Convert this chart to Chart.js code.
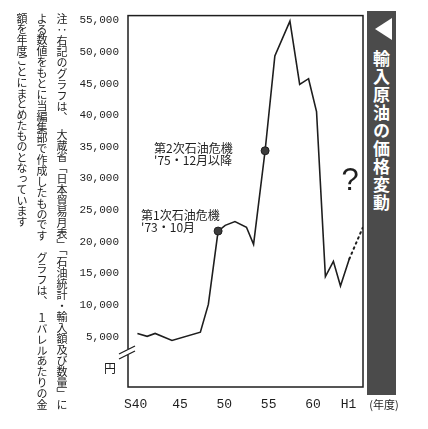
<!DOCTYPE html>
<html lang="ja">
<head>
<meta charset="utf-8">
<title>輸入原油の価格変動</title>
<script src="https://cdn.jsdelivr.net/npm/chart.js@4/dist/chart.umd.min.js"></script>
<style>
html, body { margin: 0; padding: 0; background: #fff; }
#wrap { position: relative; width: 428px; height: 429px; overflow: hidden; }
#wrap canvas { position: absolute; left: 0; top: 0; }
.note { position: absolute; top: 13px; width: 12px; writing-mode: vertical-rl; font-family: "Noto Sans CJK JP"; font-size: 11px; line-height: 12px; color: #222; white-space: nowrap; letter-spacing: -0.3px; }
.note.j { height: 397px; text-align: justify; text-align-last: justify; }
#band { position: absolute; left: 367px; top: 11px; width: 29px; height: 384px; background: #4b4b4b; }
#tri { position: absolute; left: 8px; top: 7px; width: 0; height: 0; border-top: 11px solid transparent; border-bottom: 11px solid transparent; border-right: 17px solid #fff; }
#title { position: absolute; left: 0; top: 39px; width: 29px; line-height: 29px; writing-mode: vertical-rl; font-family: "Noto Sans CJK JP"; font-weight: bold; font-size: 17px; letter-spacing: 1px; color: #fff; }
</style>
</head>
<body>
<div id="wrap">
  <canvas id="chart-area" width="428" height="429"></canvas>

  <!-- 注記（縦書き） -->
  <div class="note j" style="left:56px">注：右記のグラフは、　大蔵省「日本貿易月表」「石油統計・輸入額及び数量」に</div>
  <div class="note j" style="left:36px">よる数値をもとに当編集部で作成したものです　グラフは、　１バレルあたりの金</div>
  <div class="note" style="left:16px">額を年度ごとにまとめたものとなっています</div>

  <div id="band">
    <div id="tri"></div>
    <div id="title">輸入原油の価格変動</div>
  </div>
</div>

<script>
// 年度（昭和）と1バレルあたりの価格（円）
var years = [40.2, 41.3, 42.2, 44.1, 47.3, 48.2, 49.3, 50.1, 51.2, 52.5, 53.3,
             54.6, 55.7, 57.4, 58.5, 59.5, 60.4, 61.4, 62.3, 63.1, 64.1];
var prices = [5500, 5050, 5500, 4400, 5700, 10100, 21700, 22600, 23200, 22300, 19600,
              34400, 49400, 54900, 44900, 45800, 40600, 14500, 16900, 13000, 17300];

// 今後の見通し（点線）
var outlookYears = [64.1, 65.6];
var outlookPrices = [17300, 22200];

// 石油危機
var crisisYears = [49.3, 54.6];
var crisisLabels = [['第1次石油危機', "'73・10月"], ['第2次石油危機', "'75・12月以降"]];

var xTicks = [40, 45, 50, 55, 60, 64];
var xTickLabels = ['S40', '45', '50', '55', '60', 'H1'];
var yTicks = [5000, 10000, 15000, 20000, 25000, 30000, 35000, 40000, 45000, 50000, 55000];

var ink = '#1e1e1e';

var extras = {
  id: 'extras',
  afterDraw: function(chart) {
    var ctx = chart.ctx, a = chart.chartArea, x = chart.scales.x, y = chart.scales.y;
    ctx.save();

    // 枠
    ctx.strokeStyle = ink;
    ctx.lineWidth = 1.5;
    ctx.strokeRect(a.left, a.top, a.right - a.left, a.bottom - a.top);

    // 軸の省略記号
    var by = a.bottom - 35;
    ctx.fillStyle = '#fff';
    ctx.fillRect(a.left - 2, by - 3, 4, 6);
    ctx.beginPath();
    ctx.moveTo(a.left - 9, by + 2); ctx.lineTo(a.left + 7, by - 6);
    ctx.moveTo(a.left - 9, by + 7); ctx.lineTo(a.left + 7, by - 1);
    ctx.lineWidth = 1.3;
    ctx.stroke();

    // 単位
    ctx.fillStyle = ink;
    ctx.textBaseline = 'middle';
    ctx.textAlign = 'center';
    ctx.font = '12px "Noto Sans CJK JP"';
    ctx.fillText('円', 110, 368);
    ctx.font = '11px "Noto Sans CJK JP"';
    ctx.fillText('(年度)', 384, 405);

    // 石油危機の注記
    ctx.textAlign = 'left';
    ctx.font = '12px "Noto Sans CJK JP"';
    var offs = [[-77, -16], [-111, -2]];
    crisisYears.forEach(function(cy, i) {
      var px = x.getPixelForValue(cy), py = y.getPixelForValue(prices[years.indexOf(cy)]);
      ctx.fillText(crisisLabels[i][0], px + offs[i][0], py + offs[i][1]);
      ctx.fillText(crisisLabels[i][1], px + offs[i][0], py + offs[i][1] + 12);
    });

    // 見通し
    ctx.textAlign = 'center';
    ctx.font = '31px "Liberation Sans"';
    ctx.fillText('?', 350, 181);

    ctx.restore();
  }
};

var config = {
  type: 'line',
  data: {
    datasets: [{
      data: years.map(function(v, i) { return {x: v, y: prices[i]}; }),
      borderColor: ink,
      borderWidth: 1.6,
      tension: 0,
      pointRadius: years.map(function(v) { return crisisYears.indexOf(v) >= 0 ? 4 : 0; }),
      pointBackgroundColor: '#3c3c3c',
      pointBorderColor: ink,
      pointBorderWidth: 1
    }, {
      data: outlookYears.map(function(v, i) { return {x: v, y: outlookPrices[i]}; }),
      borderColor: ink,
      borderWidth: 2,
      borderDash: [1.5, 4],
      borderCapStyle: 'round',
      pointRadius: 0
    }]
  },
  options: {
    responsive: false,
    animation: false,
    layout: { padding: { top: 11, right: 65, left: 0, bottom: 0 } },
    plugins: { legend: { display: false }, tooltip: { enabled: false } },
    scales: {
      x: {
        type: 'linear', min: 39.14, max: 65.64,
        afterBuildTicks: function(s) { s.ticks = xTicks.map(function(v) { return {value: v}; }); },
        afterFit: function(s) { s.height = 42; },
        grid: { display: false, drawTicks: false },
        border: { display: false },
        ticks: {
          padding: 10, color: ink, maxRotation: 0, autoSkip: false,
          font: { family: '"Liberation Mono"', size: 13 },
          callback: function(v, i) { return xTickLabels[i]; }
        }
      },
      y: {
        min: -2969, max: 55781,
        afterBuildTicks: function(s) { s.ticks = yTicks.map(function(v) { return {value: v}; }); },
        afterFit: function(s) { s.width = 128; },
        grid: { display: false, drawTicks: false },
        border: { display: false },
        ticks: {
          padding: 9, color: ink,
          font: { family: '"Liberation Mono"', size: 11 },
          callback: function(v) { return v.toLocaleString('en-US'); }
        }
      }
    }
  },
  plugins: [extras]
};

window.onload = function() {
  var ctx = document.getElementById('chart-area').getContext('2d');
  window.myLine = new Chart(ctx, config);
};
</script>
</body>
</html>
